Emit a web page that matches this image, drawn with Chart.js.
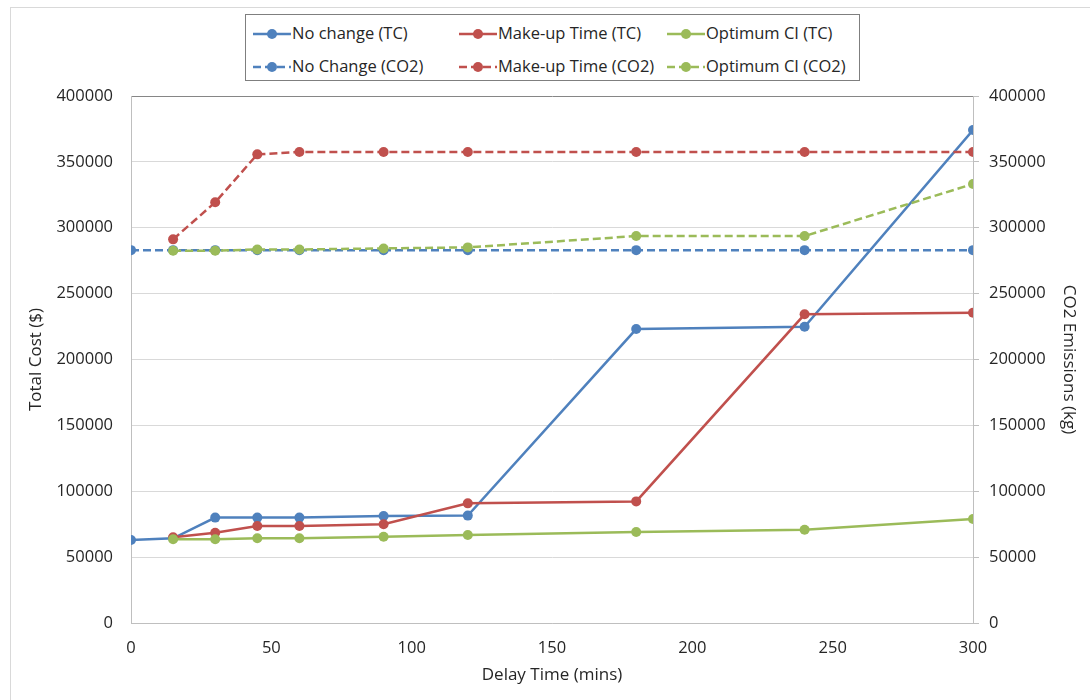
<!DOCTYPE html>
<html>
<head>
<meta charset="utf-8">
<script src="https://cdn.jsdelivr.net/npm/chart.js@4.4.1/dist/chart.umd.min.js"></script>
<style>
  html, body { margin: 0; padding: 0; background: #fff; }
  #wrap { position: relative; width: 1090px; height: 700px; overflow: hidden; font-family: "Open Sans", Lato, sans-serif; }
  #frame { position: absolute; left: 10px; top: 7px; width: 1200px; height: 800px; border: 1px solid #d9d9d9; box-sizing: border-box; }
  #chart { position: absolute; left: 0; top: 0; }
  #legend { position: absolute; left: 245px; top: 14px; width: 615px; height: 67px; border: 1px solid #7f7f7f; box-sizing: border-box; background: #fff; }
  .item { position: absolute; height: 20px; font-size: 16.5px; color: #262626; white-space: nowrap; line-height: 20px; }
  .item svg { position: absolute; left: 0; top: 0; }
  .item span { position: absolute; left: 39px; top: -1px; }
</style>
</head>
<body>
<div id="wrap">
  <div id="frame"></div>
  <canvas id="chart" width="1090" height="700"></canvas>
  <div id="legend"></div>
</div>
<script>
// Delay times (minutes) on the x axis
const delayTimes = [0, 15, 30, 45, 60, 90, 120, 180, 240, 300];

// Total cost ($), left axis
const noChangeTC = [63000, 64300, 80000, 80000, 80000, 81200, 81500, 223100, 224800, 374200];
const makeupTC   = [null, 65000, 68500, 73600, 73600, 74900, 90800, 92300, 234300, 235500];
const optimumTC  = [null, 63600, 63500, 64300, 64300, 65500, 66800, 69100, 70800, 78900];

// CO2 emissions (kg), right axis
const noChangeCO2 = [283000, 283000, 283000, 283000, 283000, 283000, 283000, 283000, 283000, 283000];
const makeupCO2   = [null, 291200, 319300, 355700, 357500, 357500, 357500, 357500, 357500, 357500];
const optimumCO2  = [null, 282600, 282600, 283500, 283500, 284300, 285100, 293700, 293700, 333200];

const seriesNames = ['No change (TC)', 'Make-up Time (TC)', 'Optimum CI (TC)',
                     'No Change (CO2)', 'Make-up Time (CO2)', 'Optimum CI (CO2)'];

const BLUE = '#4f81bd', RED = '#c0504d', GREEN = '#9bbb59';
const DASH = [8, 4];

function pts(values) {
  return delayTimes.map((t, i) => ({ x: t, y: values[i] }));
}

function series(idx, values, color, axis, dashed) {
  return {
    label: seriesNames[idx],
    data: pts(values),
    yAxisID: axis,
    borderColor: color,
    backgroundColor: color,
    pointBackgroundColor: color,
    pointBorderColor: color,
    borderWidth: 2.5,
    borderDash: dashed ? DASH : [],
    pointRadius: 5,
    pointBorderWidth: 0,
    pointHoverRadius: 5,
    tension: 0,
    fill: false,
    order: 10 - idx // later series are painted above earlier ones
  };
}

const datasets = [
  series(0, noChangeTC, BLUE, 'y', false),
  series(1, makeupTC, RED, 'y', false),
  series(2, optimumTC, GREEN, 'y', false),
  series(3, noChangeCO2, BLUE, 'y2', true),
  series(4, makeupCO2, RED, 'y2', true),
  series(5, optimumCO2, GREEN, 'y2', true)
];

const FONT = { family: '"Open Sans", Lato, sans-serif', size: 16.5 };
const TITLE_FONT = { family: '"Open Sans", Lato, sans-serif', size: 17 };
const TEXT = '#262626';
const plain = v => String(v);

const chart = new Chart(document.getElementById('chart'), {
  type: 'line',
  data: { datasets },
  options: {
    responsive: false,
    animation: false,
    events: [],
    layout: { padding: { top: 96, left: 0, right: 0, bottom: 0 } },
    plugins: { legend: { display: false }, tooltip: { enabled: false } },
    scales: {
      x: {
        type: 'linear',
        min: 0, max: 300,
        ticks: { stepSize: 50, color: TEXT, font: FONT, padding: 15, maxRotation: 0, callback: plain },
        grid: { display: false, drawTicks: false },
        border: { color: '#bfbfbf', width: 1 },
        title: { display: true, text: 'Delay Time (mins)', color: TEXT, font: TITLE_FONT, padding: { top: 0, bottom: 15 } },
        afterFit: s => { s.height = 77; }
      },
      y: {
        type: 'linear', position: 'left',
        min: 0, max: 400000,
        ticks: { stepSize: 50000, color: TEXT, font: FONT, padding: 18, callback: plain },
        grid: {
          drawTicks: false,
          color: ctx => (ctx.tick && ctx.tick.value === 400000) ? '#868686' : '#d9d9d9',
          lineWidth: 1
        },
        border: { color: '#bfbfbf', width: 1 },
        title: { display: true, text: 'Total Cost ($)', color: TEXT, font: TITLE_FONT, padding: { top: 26, bottom: 0 } },
        afterFit: s => { s.width = 131; }
      },
      y2: {
        type: 'linear', position: 'right',
        min: 0, max: 400000,
        ticks: { stepSize: 50000, color: TEXT, font: FONT, padding: 10, callback: plain },
        grid: { drawOnChartArea: false, drawTicks: true, tickLength: 6, color: '#bfbfbf' },
        border: { color: '#bfbfbf', width: 1 },
        title: { display: true, text: 'CO2 Emissions (kg)', color: TEXT, font: TITLE_FONT, padding: { top: 11, bottom: 0 } },
        afterFit: s => { s.width = 117; }
      }
    }
  }
});

// Legend laid out in three columns, two rows, built from the chart's datasets
(function buildLegend() {
  const box = document.getElementById('legend');
  const colX = [7, 213, 421];
  const rowY = [9, 42];
  chart.data.datasets.forEach((ds, i) => {
    const col = i % 3, row = Math.floor(i / 3);
    const item = document.createElement('div');
    item.className = 'item';
    item.style.left = colX[col] + 'px';
    item.style.top = rowY[row] + 'px';
    const dash = ds.borderDash.length ? 'stroke-dasharray="' + ds.borderDash.join(' ') + '"' : '';
    item.innerHTML =
      '<svg width="38" height="20"><line x1="0" y1="10" x2="38" y2="10" stroke="' + ds.borderColor +
      '" stroke-width="2.5" ' + dash + '/><circle cx="19" cy="10" r="5" fill="' + ds.borderColor + '"/></svg>' +
      '<span>' + ds.label + '</span>';
    box.appendChild(item);
  });
})();
</script>
</body>
</html>
